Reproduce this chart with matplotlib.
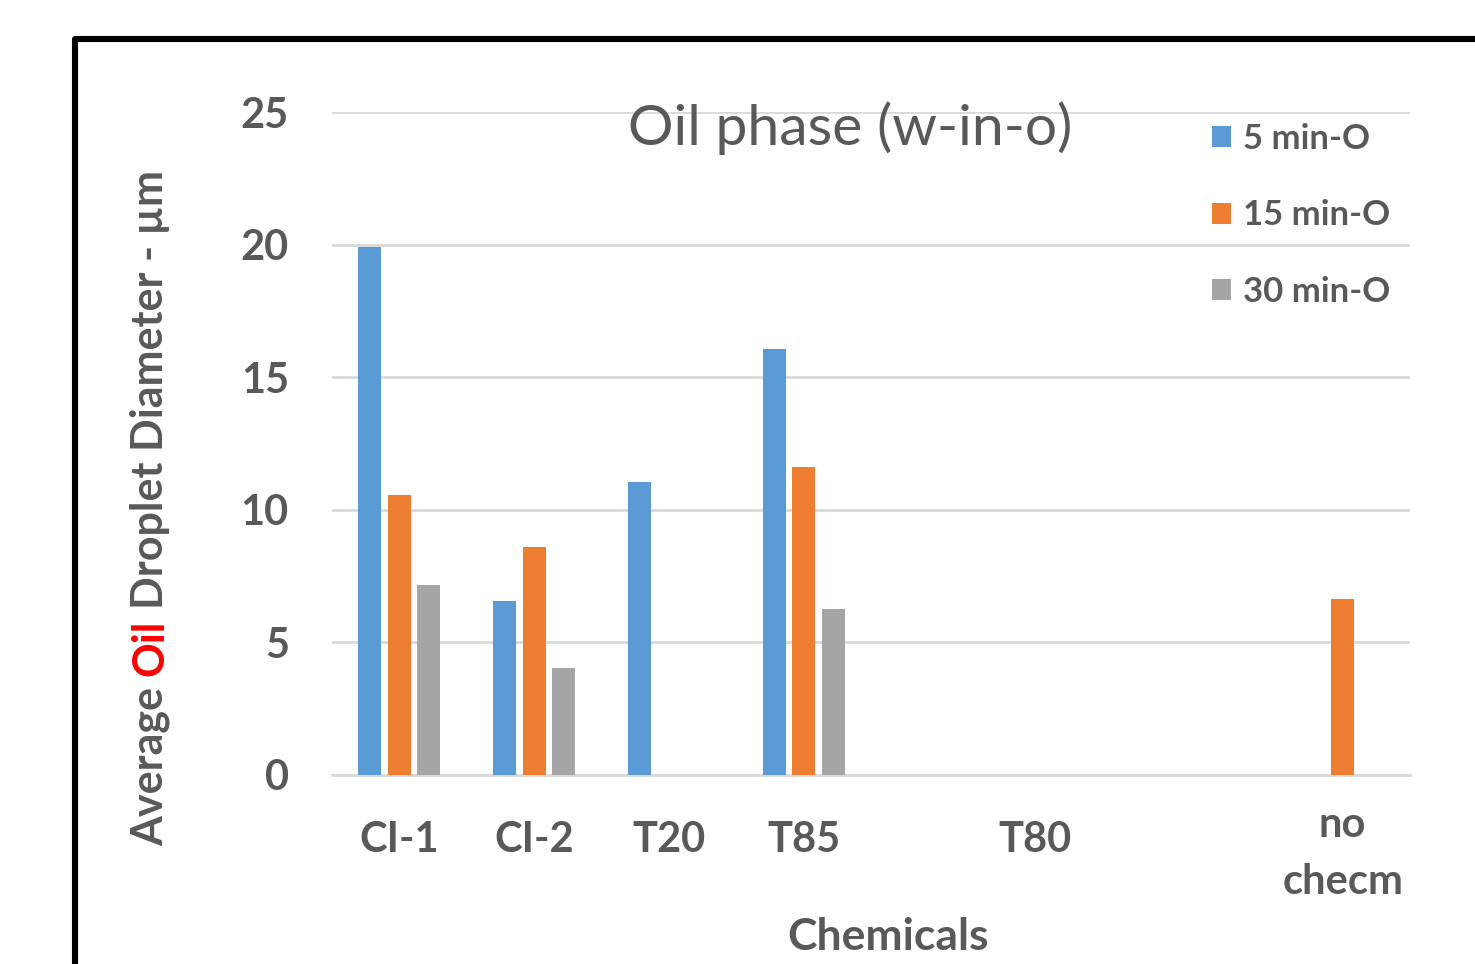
import matplotlib
matplotlib.use("Agg")
import matplotlib.pyplot as plt
from matplotlib.lines import Line2D
from matplotlib.transforms import ScaledTranslation
import numpy as np

plt.rcParams["font.family"] = ["Lato", "DejaVu Sans"]

categories = ["CI-1", "CI-2", "T20", "T85", "T80", "no\nchecm"]
series_names = ["5 min-O", "15 min-O", "30 min-O"]
min5 = [19.9, 6.55, 11.05, 16.05, 0, 0]
min15 = [10.55, 8.6, 0, 11.6, 0, 6.65]
min30 = [7.15, 4.05, 0, 6.25, 0, 0]

# slot positions on the category axis (chart keeps 8 slots, two of them empty)
slots = np.array([0, 1, 2, 3, 4.72, 7])

TEXT = "#595959"
GRID = "#D9D9D9"
COLORS = ["#5B9BD5", "#ED7D31", "#A5A5A5"]

fig = plt.figure(figsize=(14.75, 9.64), dpi=100)
ax = fig.add_axes([332 / 1475, 1 - 775 / 964, 1078 / 1475, 663 / 964])

width = 0.171
offsets = [-0.219, 0.0, 0.219]
for vals, off, col, name in zip([min5, min15, min30], offsets, COLORS, series_names):
    ax.bar(slots + off, vals, width=width, color=col, label=name, zorder=3)

ax.set_xlim(-0.5, 7.5)
ax.set_ylim(0, 25)
ax.set_yticks(np.arange(0, 26, 5))
ax.yaxis.grid(True, color=GRID, linewidth=2.0, zorder=0)
ax.set_axisbelow(True)
for side in ["top", "right", "left"]:
    ax.spines[side].set_visible(False)
ax.spines["bottom"].set_color(GRID)
ax.spines["bottom"].set_linewidth(2.0)

ax.set_xticks(slots)
ax.set_xticklabels(categories, linespacing=1.62)
ax.tick_params(axis="both", length=0, labelsize=30, labelcolor=TEXT)
ax.tick_params(axis="y", pad=31)
ax.tick_params(axis="x", pad=33)
for lab in ax.get_yticklabels() + ax.get_xticklabels():
    lab.set_fontweight("bold")
# two-line label sits a little higher than the others
last = ax.get_xticklabels()[-1]
last.set_transform(last.get_transform() + ScaledTranslation(0, 0.15, fig.dpi_scale_trans))

ax.text(0.481, 0.976, "Oil phase (w-in-o)", transform=ax.transAxes,
        ha="center", va="center", fontsize=41, color=TEXT)

ax.set_xlabel("Chemicals", fontsize=32, fontweight="bold", color=TEXT, va="center")
ax.xaxis.set_label_coords((888 - 332) / 1078, (775 - 937) / 663)

leg = ax.legend(loc="upper left", bbox_to_anchor=(1212 / 1475, 1 - 123 / 964),
                bbox_transform=fig.transFigure, frameon=False, fontsize=25,
                handlelength=0.56, handleheight=0.56, handletextpad=0.32,
                labelspacing=1.28, borderpad=0, borderaxespad=0)
for t in leg.get_texts():
    t.set_color(TEXT)
    t.set_fontweight("bold")

# y-axis title with the word "Oil" picked out in red
fig.canvas.draw()
renderer = fig.canvas.get_renderer()
pieces = [("Average", TEXT), ("Oil", "#FF0000"), ("Droplet Diameter - µm", TEXT)]
ysize = 31
texts = []
for s, c in pieces:
    texts.append(fig.text(0, 0, s, rotation=90, rotation_mode="anchor",
                          ha="left", va="center", color=c,
                          fontsize=ysize, fontweight="bold"))
lengths = [t.get_window_extent(renderer).height for t in texts]
gap = 0.24 * ysize * fig.dpi / 72
total = sum(lengths) + gap * (len(lengths) - 1)
y = (964 - 508) - total / 2
for t, h in zip(texts, lengths):
    t.set_position((150 / 1475, y / 964))
    y += h + gap

# outer panel border
fx = 75 / 1475
fy = 1 - 39 / 964
fig.add_artist(Line2D([fx, fx, 1.02], [-0.02, fy, fy], transform=fig.transFigure,
                      color="black", linewidth=4.4, solid_joinstyle="round"))

fig.savefig("out.png", dpi=100)
